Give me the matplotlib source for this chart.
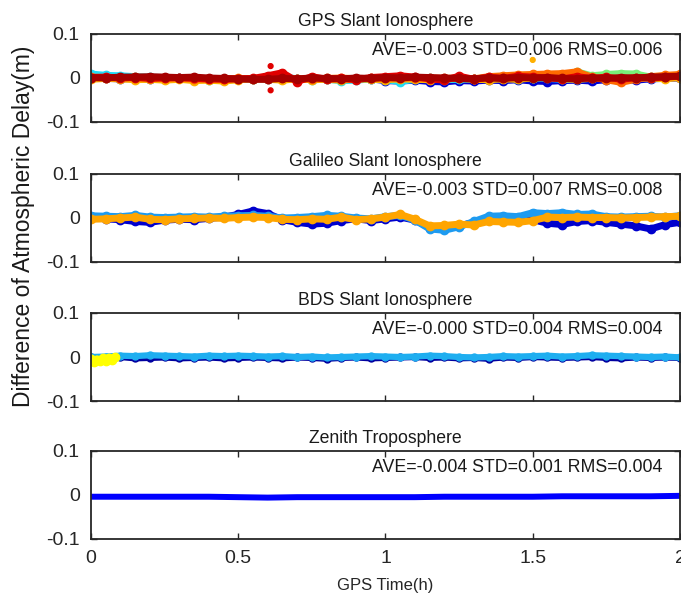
import numpy as np
import matplotlib
matplotlib.use('Agg')
import matplotlib.pyplot as plt

plt.rcParams['font.family'] = ['Liberation Sans', 'DejaVu Sans']

# time axis (hours)
t41 = np.linspace(0, 2, 41)
t21 = np.linspace(0, 2, 21)

# ---- GPS slant ionosphere (mm) ----
gps_blue = [0, -1, -2, -1, -3, -2, -1, -3, -2, -4, -3, -2, -3, -1, -2, -3, -2, -4, -3, -2,
            -6, -7, -5, -8, -9, -6, -7, -5, -6, -4, -7, -8, -6, -5, -7, -4, -3, -5, -2, -1, 0]
gps_cyan = [9, 6, 5, 3, 2, 1, 0, -2, -4, -5, -3, -2, 0, 3, -2, -4, -3, -6, -5, -2,
            -4, -8, -3, -1, -4, -3, -2, 1, -1, -2, 0, -1, -3, -2, -1, 0, -2, -1, 1, 0, 2]
gps_yellow = [-3, -1, -2, -4, -3, -5, -3, -6, -5, -7, -4, -2, -3, -5, -2, -4, -3, -5, -2, -3,
              -4, -2, -3, -4, -2, -1, -3, -4, -2, -3, 0, 2, -2, -3, -1, 0, -2, -1, 0, -2, 1]
gps_green_t = [1.5, 1.55, 1.6, 1.65, 1.7, 1.75, 1.8, 1.85, 1.9]
gps_green = [1, 3, 4, 14, 5, 8, 10, 9, 2]
gps_orange = [2, 1, 0, 2, 1, 0, -1, -2, -3, -2, -1, -2, 0, -1, -2, -3, -1, 0, -2, -1,
              0, -1, 1, 0, -1, 0, -2, 3, 5, 7, 8, 9, 10, 14, 2, -4, -10, -3, 3, 6, 8]
gps_red = [1, 2, 0, 1, -1, 0, 1, -1, -2, -3, -2, -1, 5, 12, -8, 3, -3, -1, -4, 1,
           3, 5, 2, -2, -5, 4, -3, 2, -1, 4, 2, 0, -2, 3, -1, 2, -3, 1, 0, 2, 4]
gps_darkred = [1, 0, 2, 2, 3, 2, 1, 2, 0, -1, -2, -3, -3, -1, -2, 0, -1, -2, 0, -1,
               1, 0, 2, 1, 0, -1, -2, 0, -1, 1, 0, 1, -1, -2, 0, -1, 1, 0, 2, 3, 4]
gps_out_t = [0.61, 0.61, 1.5]
gps_out = [27, -28, 41]
gps_out_c = ['#E00000', '#E00000', '#FFB000']

# ---- Galileo slant ionosphere (mm) ----
gal_darkblue = [2, -2, -4, -8, -10, -5, -3, -4, -1, 2, 8, 16, 10, -4, -10, -14, -12, -6, -2, -6,
                -2, 2, -5, -22, -25, -18, -10, -2, 0, -2, -4, -12, -15, -8, -6, -10, -14, -18, -25, -15, -10]
gal_lightblue = [5, 4, 3, 6, 2, 1, 2, 3, 2, 4, 5, 6, 4, 0, 1, 3, 6, 4, 0, -2,
                 3, 6, -5, -25, -28, -20, -8, 4, 5, 3, 12, 10, 12, 8, 9, 3, 2, 3, 4, 2, 5]
gal_orange = [-3, -2, 0, 2, -3, -4, -2, -1, 0, -1, 1, 2, 1, -3, -4, -2, -3, 2, -4, -2,
              2, 8, -3, -18, -17, -14, -16, -8, -9, -10, -6, 2, 1, 2, 1, 1, 0, 1, 2, 3, 4]

# ---- BDS slant ionosphere (mm) ----
bds_darkblue = [-1, -2, 0, -3, -2, -1, -3, -2, -1, -3, -2, -1, -2, -3, -1, -2, -4, -2, -1, -3,
                -2, -1, 0, -2, -1, -3, -2, -4, -1, -2, 0, -1, -2, -1, 0, -2, -3, -1, -2, -1, -2]
bds_lightblue = [0, 1, 3, 2, 4, 3, 2, 1, 3, 2, 3, 2, 1, 2, 0, 1, -1, 0, 1, 2,
                 1, 0, 1, 3, 2, 0, -1, 0, 2, 1, 2, 3, 1, 2, 4, 3, 2, 1, 0, 1, -1]
bds_yellow_t = [0.0, 0.01, 0.02, 0.03, 0.04, 0.05, 0.06, 0.07, 0.08]
bds_yellow = [-4, -12, -6, -10, -3, -8, -2, -6, -1]

# ---- Zenith troposphere (mm) ----
ztd = [-4, -4, -4, -4, -4, -5, -6, -5, -5, -5, -5, -5, -4, -4, -4, -4, -3, -3, -3, -3, -2]

titles = ['GPS Slant Ionosphere', 'Galileo Slant Ionosphere',
          'BDS Slant Ionosphere', 'Zenith Troposphere']
stats = ['AVE=-0.003 STD=0.006 RMS=0.006', 'AVE=-0.003 STD=0.007 RMS=0.008',
         'AVE=-0.000 STD=0.004 RMS=0.004', 'AVE=-0.004 STD=0.001 RMS=0.004']

fig = plt.figure(figsize=(6.81, 5.98), dpi=100)
bottoms = [0.796, 0.5619, 0.3294, 0.0987]
axes = [fig.add_axes([0.1336, b, 0.8649, 0.1472]) for b in bottoms]

def band(ax, t, v, c, w=5.0, ms=6):
    ax.plot(t, np.array(v) / 1000.0, color=c, lw=w, marker='o', ms=ms, mec=c,
            solid_capstyle='round', solid_joinstyle='round')

ax = axes[0]
band(ax, t41, gps_blue, '#0000D0')
band(ax, t41, gps_cyan, '#1EDCF5')
band(ax, t41, gps_yellow, '#FFB000')
band(ax, gps_green_t, gps_green, '#78F078')
band(ax, t41, gps_orange, '#FF6A00')
band(ax, t41, gps_red, '#E00000')
band(ax, t41, gps_darkred, '#A50000')
ax.scatter(gps_out_t, np.array(gps_out) / 1000.0, s=12, c=gps_out_c, zorder=3)

ax = axes[1]
band(ax, t41, gal_darkblue, '#0000CD')
band(ax, t41, gal_lightblue, '#1E9BF0')
band(ax, t41, gal_orange, '#FFA500')

ax = axes[2]
band(ax, t41, bds_darkblue, '#0000A0', w=4.5, ms=5)
band(ax, t41, bds_lightblue, '#1EAEF0', w=4.5, ms=5)
band(ax, bds_yellow_t, bds_yellow, '#FFFF00', w=6, ms=6)

ax = axes[3]
band(ax, t21, ztd, '#0000FF', w=4.3, ms=0)

for i, ax in enumerate(axes):
    ax.set_xlim(0, 2)
    ax.set_ylim(-0.1, 0.1)
    ax.set_yticks([-0.1, 0, 0.1])
    ax.set_yticklabels(['-0.1', '0', '0.1'])
    ax.set_xticks([0, 0.5, 1, 1.5, 2])
    ax.tick_params(direction='in', length=4, width=1, top=True, right=True,
                   labelsize=14, colors='#262626', pad=8)
    for s in ax.spines.values():
        s.set_linewidth(1.3)
        s.set_color('#262626')
    ax.set_title(titles[i], fontsize=12.7, pad=6, color='#1a1a1a')
    ax.text(0.955, 0.062, stats[i], fontsize=12.8, va='center', ha='left', color='#1a1a1a')
    if i < 3:
        ax.set_xticklabels([])
    else:
        ax.set_xticklabels(['0', '0.5', '1', '1.5', '2'])

axes[3].set_xlabel('GPS Time(h)', fontsize=12, color='#262626', labelpad=8)
fig.text(0.034, 0.622, 'Difference of Atmospheric Delay(m)', rotation=90,
         fontsize=16.5, va='center', ha='center', color='#1a1a1a')

fig.savefig('out.png', dpi=100)
